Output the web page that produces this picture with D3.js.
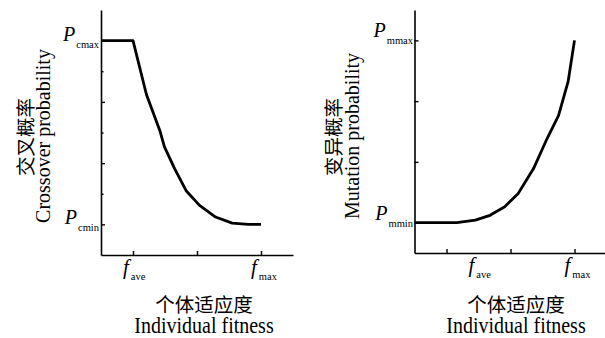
<!DOCTYPE html>
<html><head><meta charset="utf-8">
<script src="https://cdn.jsdelivr.net/npm/d3@7"></script>
<style>body{margin:0;background:#fff}svg{display:block}</style>
</head><body>
<svg id="c" width="605" height="338"></svg>
<script>
// ---- data ----
const crossX = [0, 0.5, 0.71, 0.92, 0.99, 1.15, 1.33, 1.54, 1.79, 2.05, 2.3, 2.5];
const crossY = [4, 4, 3.12, 2.53, 2.27, 1.91, 1.55, 1.31, 1.12, 1.02, 1.0, 1.0];
const mutX = [0, 0.66, 0.95, 1.18, 1.41, 1.62, 1.86, 2.07, 2.25, 2.4, 2.5];
const mutY = [1, 1, 1.04, 1.12, 1.26, 1.48, 1.89, 2.38, 2.76, 3.32, 4.0];
const xTickVals = [0.5, 1.5, 2.5];
const yMajorTicks = [1, 2, 3, 4];
const yMinorTicks = [1.5, 2.5, 3.5];
const leftYLabels = [{v: 4, sub: "cmax"}, {v: 1, sub: "cmin"}];
const rightYLabels = [{v: 4, sub: "mmax"}, {v: 1, sub: "mmin"}];
const leftXLabels = [{v: 0.5, sub: "ave"}, {v: 2.5, sub: "max"}];
const rightXLabels = [{v: 1.0, sub: "ave"}, {v: 2.5, sub: "max"}];
const xTitleCN = "个体适应度", xTitleEN = "Individual fitness";
const leftTitleCN = "交叉概率", leftTitleEN = "Crossover probability";
const rightTitleCN = "变异概率", rightTitleEN = "Mutation probability";

const svg = d3.select("#c");
const serif = "'Liberation Serif','Times New Roman',serif";
const cjk = "'Noto Sans CJK SC',sans-serif";

function panel(o) {
  const x = d3.scaleLinear().domain([0, 3]).range([o.x0, o.x0 + 192]);
  const y = d3.scaleLinear().domain([0.5, 4.5]).range([o.yb, o.yt]);
  const g = svg.append("g");
  g.append("g").attr("transform", `translate(${o.x0},0)`)
    .call(d3.axisLeft(y).tickValues(yMajorTicks).tickSize(-4).tickSizeOuter(0).tickFormat(""));
  if (o.minor) {
    g.append("g").attr("transform", `translate(${o.x0},0)`)
      .call(d3.axisLeft(y).tickValues(yMinorTicks).tickSize(-2.5).tickSizeOuter(0).tickFormat(""))
      .select(".domain").remove();
  }
  g.append("g").attr("transform", `translate(0,${o.yb})`)
    .call(d3.axisBottom(x).tickValues(xTickVals).tickSize(-4).tickSizeOuter(0).tickFormat(""));
  g.selectAll(".domain").attr("stroke", "#000").attr("stroke-width", 1.6);
  g.selectAll(".tick line").attr("stroke", "#000").attr("stroke-width", 1.4);

  const pts = o.xs.map((d, i) => [d, o.ys[i]]);
  g.append("path").datum(pts)
    .attr("d", d3.line().x(d => x(d[0])).y(d => y(d[1])))
    .attr("fill", "none").attr("stroke", "#000").attr("stroke-width", 2.8)
    .attr("stroke-linejoin", "round");

  o.yLabels.forEach(l => {
    const t = g.append("text").attr("x", o.pX).attr("y", y(l.v) + o.pDy)
      .attr("font-family", serif).attr("text-anchor", "end").attr("fill", "#000");
    t.append("tspan").attr("font-size", 20).attr("font-style", "italic").text("P");
    t.append("tspan").attr("font-size", 10.5).attr("dx", 1).attr("dy", 7).text(l.sub);
  });
  o.xLabels.forEach(l => {
    const t = g.append("text").attr("x", x(l.v) - 10).attr("y", o.yb + 19)
      .attr("font-family", serif).attr("fill", "#000");
    t.append("tspan").attr("font-size", 21).attr("font-style", "italic").text("f");
    t.append("tspan").attr("font-size", 10.5).attr("dx", 2).attr("dy", 6).text(l.sub);
  });
  g.append("text").attr("x", o.xTitleX).attr("y", 312).attr("text-anchor", "middle")
    .attr("font-family", cjk).attr("font-size", 19.5).attr("fill", "#000").text(xTitleCN);
  g.append("text").attr("transform", `translate(${o.xTitleX},333) scale(1,1.2)`).attr("text-anchor", "middle")
    .attr("font-family", serif).attr("font-size", 20).attr("fill", "#000").text(xTitleEN);
  g.append("text").attr("transform", `translate(${o.cnX},137) rotate(-90)`).attr("text-anchor", "middle")
    .attr("font-family", cjk).attr("font-size", 19.5).attr("fill", "#000").text(o.cn);
  g.append("text").attr("transform", `translate(${o.enX},136) rotate(-90)`).attr("text-anchor", "middle")
    .attr("font-family", serif).attr("font-size", 20).attr("fill", "#000").text(o.en);
}

panel({x0: 101, yb: 255, yt: 10, minor: true, xs: crossX, ys: crossY,
  yLabels: leftYLabels, xLabels: leftXLabels, pX: 99, pDy: 0,
  xTitleX: 204, cnX: 33, enX: 50, cn: leftTitleCN, en: leftTitleEN});
panel({x0: 414.5, yb: 253, yt: 10, minor: false, xs: mutX, ys: mutY,
  yLabels: rightYLabels, xLabels: rightXLabels, pX: 413, pDy: -3,
  xTitleX: 516, cnX: 341, enX: 359, cn: rightTitleCN, en: rightTitleEN});
</script>
</body></html>
